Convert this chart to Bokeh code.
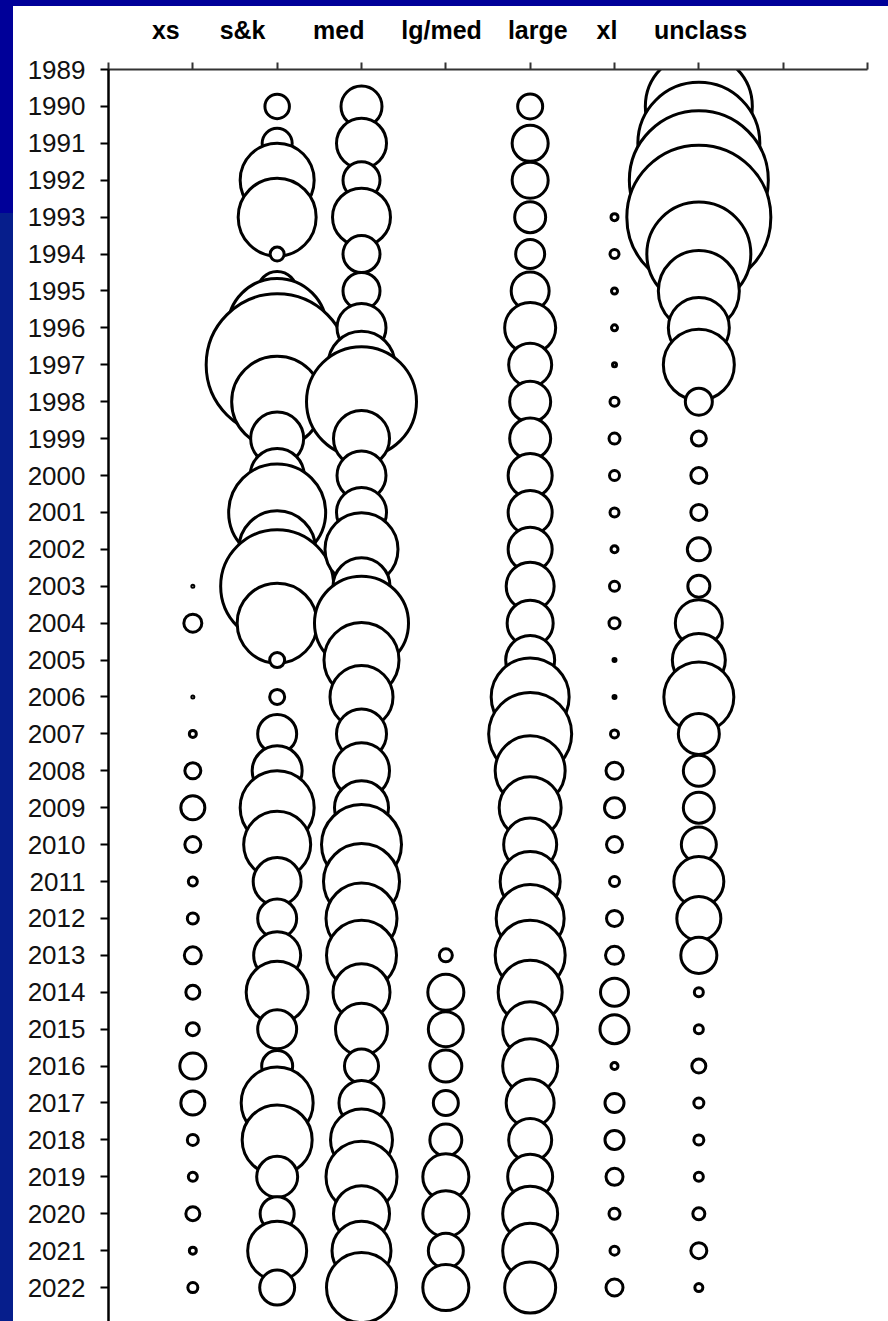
import math
from bokeh.plotting import figure
from bokeh.models import Range1d, FixedTicker, ColumnDataSource, GlobalInlineStyleSheet
from bokeh.embed import file_html
from bokeh.resources import INLINE

N = None
years = list(range(1989, 2023))
categories = ["xs", "s&k", "med", "lg/med", "large", "xl", "unclass"]

# bubble values (area units), one per year 1989..2022, None = no bubble
xs_vals = [N] * 14 + [0.4, 32.4, N, 0.4, 4.9, 25.6, 57.6, 25.6, 8.1, 12.1,
                      28.9, 19.6, 16.9, 67.6, 57.6, 12.1, 8.1, 19.6, 4.9, 10.0]
sk_vals = [N, 60, 90, 548, 608, 19.6, 152, 980, 2016, 828, 281,
           292, 941, 593, 1277, 640, 22.5, 22.5, 152, 250, 548,
           449, 230, 152, 221, 384, 152, 96, 518, 490, 168,
           116, 348, 122]
med_vals = [N, 168, 250, 137, 336, 137, 137, 240, 449, 1210, 314,
            240, 250, 533, 325, 884, 563, 397, 250, 314, 292,
            640, 578, 504, 490, 325, 270, 116, 203, 384, 504,
            314, 348, 490]
lgmed_vals = [N] * 24 + [16.9, 130, 122.5, 102, 62.5, 102, 212, 212, 122.5, 212]
large_vals = [N, 62.5, 130, 130, 96, 84, 144, 260, 185, 168, 168,
              194, 194, 194, 230, 212, 240, 608, 689, 490, 384,
              281, 360, 462, 490, 410, 302, 302, 230, 185, 202,
              302, 302, 260]
xl_vals = [N] * 4 + [4.9, 8.1, 3.6, 3.6, 1.6, 8.1, 12.1, 10.0, 8.1, 4.9,
                     10.0, 12.1, 0.9, 0.9, 6.4, 28.9, 40.0, 25.6, 10.0, 25.6,
                     32.4, 78.4, 84.1, 4.9, 36.1, 36.1, 28.9, 12.1, 8.1, 28.9]
unclass_vals = [N, 1145, 1488, 1932, 2074, 1082, 656, 372, 504, 72.9, 22.5,
                25.6, 25.6, 52.9, 48.4, 221, 281, 490, 168, 96, 96,
                122.5, 250, 194, 130, 8.1, 8.1, 19.6, 10.0, 10.0, 8.1,
                14.4, 25.6, 6.4]

series = [xs_vals, sk_vals, med_vals, lgmed_vals, large_vals, xl_vals, unclass_vals]

# header label positions along the category axis
label_pos = [0.68, 1.59, 2.73, 3.95, 5.09, 5.91, 7.02]

xcol, ycol, scol = [], [], []
for ci, vals in enumerate(series):
    for yr, v in zip(years, vals):
        if v is None:
            continue
        xcol.append(ci + 1)
        ycol.append(yr)
        scol.append(math.sqrt(10.0 * v))
src = ColumnDataSource(dict(x=xcol, y=ycol, size=scol))

p = figure(width=888, height=1321,
           x_range=Range1d(0, 9), y_range=Range1d(2022.92, 1989),
           x_axis_location="above", output_backend="svg", toolbar_location=None,
           min_border_left=108, min_border_right=21, min_border_top=69, min_border_bottom=0,
           background_fill_color="white", border_fill_color=None, outline_line_color=None)
p.xgrid.visible = False
p.ygrid.visible = False

p.scatter(x="x", y="y", size="size", source=src, marker="circle",
          fill_color="white", line_color="black", line_width=3)

xa = p.xaxis[0]
xa.ticker = FixedTicker(ticks=label_pos, minor_ticks=list(range(10)))
xa.major_label_overrides = {pos: name for pos, name in zip(label_pos, categories)}
xa.major_tick_line_color = None
xa.major_tick_out = 0
xa.major_tick_in = 0
xa.minor_tick_out = 7
xa.minor_tick_in = 0
xa.minor_tick_line_color = "#333333"
xa.minor_tick_line_width = 2
xa.axis_line_color = "#333333"
xa.axis_line_width = 2
xa.major_label_standoff = 19
xa.major_label_text_font = "Liberation Sans"
xa.major_label_text_font_style = "bold"
xa.major_label_text_font_size = "25px"
xa.major_label_text_color = "black"

ya = p.yaxis[0]
ya.ticker = FixedTicker(ticks=years)
ya.major_tick_out = 8
ya.major_tick_in = 0
ya.major_tick_line_width = 2
ya.major_tick_line_color = "black"
ya.minor_tick_line_color = None
ya.axis_line_color = "black"
ya.axis_line_width = 2.5
ya.major_label_standoff = 15
ya.major_label_text_font = "Liberation Sans"
ya.major_label_text_font_size = "26px"
ya.major_label_text_color = "#111111"

p.stylesheets = [GlobalInlineStyleSheet(css=(
    "body { background:"
    " linear-gradient(#000099,#000099) 0 0 / 100% 6px no-repeat,"
    " linear-gradient(#000099,#000099) 0 0 / 13px 213px no-repeat,"
    " linear-gradient(#061e8c,#061e8c) 0 213px / 13px 100% no-repeat,"
    " #ffffff; }"))]

open("out.html", "w").write(file_html(p, INLINE))
